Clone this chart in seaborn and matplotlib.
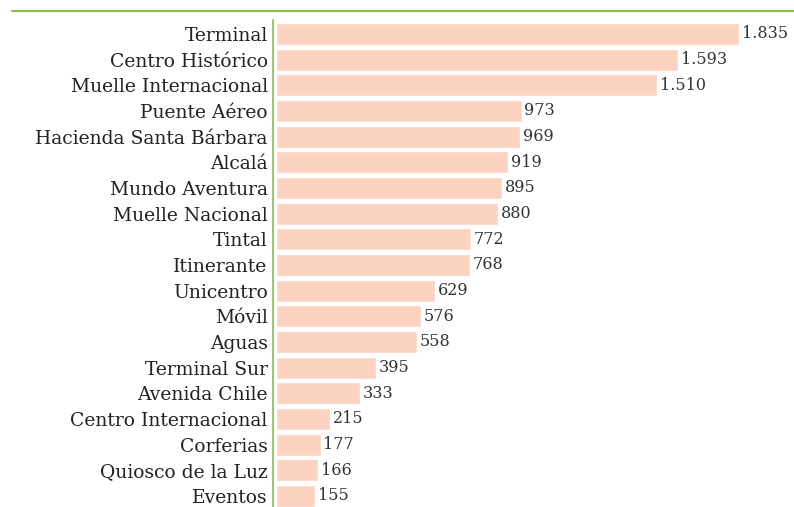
import matplotlib
matplotlib.use("Agg")
import matplotlib.pyplot as plt
import seaborn as sns
import pandas as pd
from matplotlib.lines import Line2D

# values
places = [
    "Terminal", "Centro Histórico", "Muelle Internacional", "Puente Aéreo",
    "Hacienda Santa Bárbara", "Alcalá", "Mundo Aventura", "Muelle Nacional",
    "Tintal", "Itinerante", "Unicentro", "Móvil", "Aguas", "Terminal Sur",
    "Avenida Chile", "Centro Internacional", "Corferias", "Quiosco de la Luz",
    "Eventos",
]
counts = [1835, 1593, 1510, 973, 969, 919, 895, 880, 772, 768, 629, 576,
          558, 395, 333, 215, 177, 166, 155]

df = pd.DataFrame({"place": places, "count": counts})

sns.set_style("white")
plt.rcParams["font.family"] = ["DejaVu Serif"]

fig = plt.figure(figsize=(7.94, 5.07), dpi=100)
ax = fig.add_axes([276 / 794, 0, 518 / 794, 487 / 507])

sns.barplot(data=df, x="count", y="place", orient="h", color="#fcd3c1",
            saturation=1, width=0.86, ax=ax)

ax.set_xlim(0, 2053)
ax.set_ylim(18.43, -0.545)
ax.set_xlabel(""); ax.set_ylabel("")
ax.set_xticks([])
ax.tick_params(axis="y", length=0, pad=4, labelsize=13.5, labelcolor="#222222")

for s in ["top", "right", "bottom"]:
    ax.spines[s].set_visible(False)
ax.spines["left"].set_position(("outward", 2))
ax.spines["left"].set_color("#8dbb55")
ax.spines["left"].set_linewidth(1.2)

for i, v in enumerate(counts):
    ax.annotate(f"{v:,}".replace(",", "."), (v, i), xytext=(2, 0),
                textcoords="offset points", va="center", ha="left",
                fontsize=11.5, color="#333333")

fig.add_artist(Line2D([12 / 794, 1], [1 - 11 / 507, 1 - 11 / 507],
                      color="#8dbb55", lw=1.6))

fig.savefig("out.png", dpi=100)
